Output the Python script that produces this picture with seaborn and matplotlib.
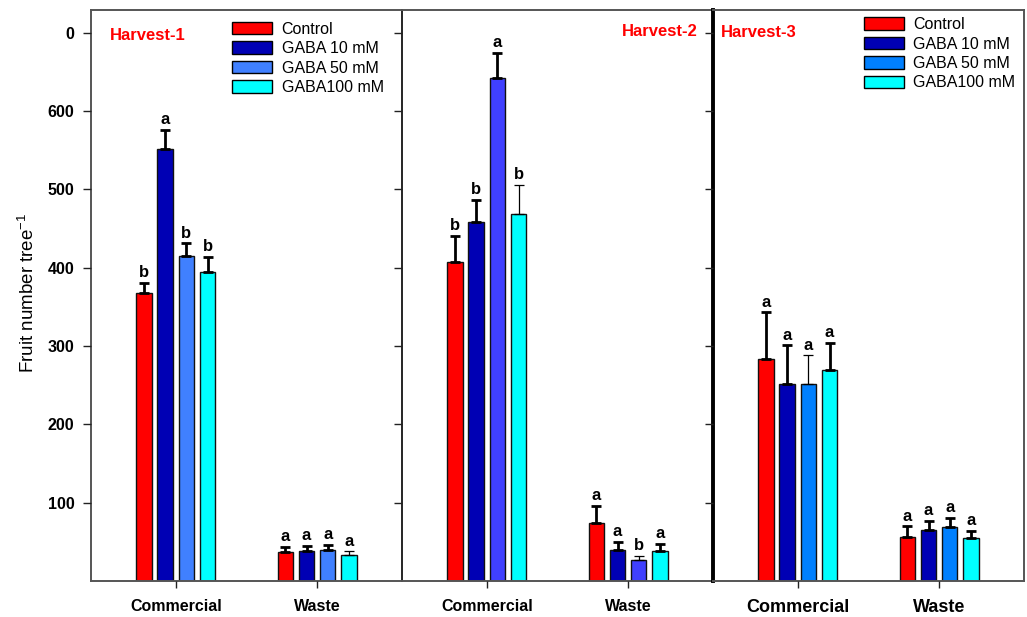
import matplotlib
matplotlib.use("Agg")
import matplotlib.pyplot as plt
import matplotlib.patches as mpatches
import seaborn as sns
import pandas as pd

# ---- data -------------------------------------------------------------
categories = ["Commercial", "Waste"]
treatments = ["Control", "GABA 10 mM", "GABA 50 mM", "GABA100 mM"]
harvests = ["Harvest-1", "Harvest-2", "Harvest-3"]

h1_commercial = [368, 551, 415, 395]
h1_commercial_se = [13, 25, 16, 19]
h1_waste = [37, 38, 40, 33]
h1_waste_se = [7, 7, 6, 5]
h1_commercial_letters = ["b", "a", "b", "b"]
h1_waste_letters = ["a", "a", "a", "a"]

h2_commercial = [407, 458, 642, 469]
h2_commercial_se = [34, 29, 32, 37]
h2_waste = [74, 40, 27, 38]
h2_waste_se = [22, 10, 5, 10]
h2_commercial_letters = ["b", "b", "a", "b"]
h2_waste_letters = ["a", "a", "b", "a"]

h3_commercial = [284, 251, 251, 269]
h3_commercial_se = [59, 50, 37, 35]
h3_waste = [57, 65, 69, 55]
h3_waste_se = [13, 12, 12, 9]
h3_commercial_letters = ["a", "a", "a", "a"]
h3_waste_letters = ["a", "a", "a", "a"]

ytick_values = [100, 200, 300, 400, 500, 600, 700]
ytick_labels = ["100", "200", "300", "400", "500", "600", "0"]

panels = [
    (h1_commercial, h1_commercial_se, h1_commercial_letters,
     h1_waste, h1_waste_se, h1_waste_letters),
    (h2_commercial, h2_commercial_se, h2_commercial_letters,
     h2_waste, h2_waste_se, h2_waste_letters),
    (h3_commercial, h3_commercial_se, h3_commercial_letters,
     h3_waste, h3_waste_se, h3_waste_letters),
]

# ---- styling ----------------------------------------------------------
palettes = [
    ["#FF0000", "#0000B4", "#4080FF", "#00FFFF"],
    ["#FF0000", "#0000B4", "#4040FF", "#00FFFF"],
    ["#FF0000", "#0000B4", "#0080FF", "#00FFFF"],
]
# error bars drawn with a thin stroke: (panel, category, treatment)
thin_bars = {(0, 1, 3), (1, 0, 3), (1, 1, 2), (2, 0, 2)}

sns.set_theme(style="white")
plt.rcParams["font.family"] = ["Liberation Sans", "DejaVu Sans"]
plt.rcParams["axes.unicode_minus"] = False
plt.rcParams["mathtext.default"] = "regular"
plt.rcParams["text.color"] = "black"
plt.rcParams["xtick.color"] = "black"
plt.rcParams["ytick.color"] = "black"
plt.rcParams["xtick.labelcolor"] = "black"
plt.rcParams["ytick.labelcolor"] = "black"

fig, axes = plt.subplots(1, 3, figsize=(10.27, 6.17), dpi=100, sharey=True)
fig.subplots_adjust(left=0.0886, right=0.997, top=0.984, bottom=0.058, wspace=0)

grey = "#555555"

for p, (ax, data) in enumerate(zip(axes, panels)):
    c_mean, c_se, c_let, w_mean, w_se, w_let = data
    df = pd.DataFrame({
        "category": [categories[0]] * 4 + [categories[1]] * 4,
        "treatment": treatments * 2,
        "value": c_mean + w_mean,
    })
    sns.barplot(data=df, x="category", y="value", hue="treatment",
                order=categories, hue_order=treatments,
                palette=palettes[p], saturation=1, width=0.6, gap=0.27,
                errorbar=None, edgecolor="#111111", linewidth=1.0,
                legend=False, ax=ax)

    means = [c_mean, w_mean]
    ses = [c_se, w_se]
    lets = [c_let, w_let]
    bar_groups = list(ax.containers)[:len(treatments)]
    for t, cont in enumerate(bar_groups):
        for c, bar in enumerate(cont.patches):
            x = bar.get_x() + bar.get_width() / 2
            m = means[c][t]
            s = ses[c][t]
            lw = 0.9 if (p, c, t) in thin_bars else 2.0
            ax.errorbar([x], [m], yerr=[[0], [s]], fmt="none", ecolor="black",
                        elinewidth=lw, capsize=3.4, capthick=lw, zorder=3)
            ax.annotate(lets[c][t], (x, m + s), xytext=(0, 2),
                        textcoords="offset points", ha="center", va="bottom",
                        fontsize=12, fontweight="bold", color="black")

    ax.set_xlim(-0.6, 1.6)
    ax.set_ylim(0, 729)
    ax.set_xlabel("")
    ax.set_ylabel("")
    ax.set_yticks(ytick_values)
    ax.tick_params(axis="y", direction="out", length=6, width=1, color="#222222",
                   left=True, pad=6)
    ax.tick_params(axis="x", direction="out", length=5, width=1, color="#222222",
                   bottom=True, pad=8)
    xfs = 13 if p == 2 else 11.5
    ax.set_xticks([0, 1])
    ax.set_xticklabels(categories, fontsize=xfs, fontweight="bold")

    for side in ["top", "bottom"]:
        ax.spines[side].set_color(grey)
        ax.spines[side].set_linewidth(1.4)
    ax.spines["right"].set_visible(p == 2)
    ax.spines["right"].set_color(grey)
    ax.spines["right"].set_linewidth(1.4)
    if p == 0:
        ax.spines["left"].set_color(grey)
        ax.spines["left"].set_linewidth(1.4)
    elif p == 1:
        ax.spines["left"].set_color("black")
        ax.spines["left"].set_linewidth(1.2)
    else:
        ax.spines["left"].set_color("black")
        ax.spines["left"].set_linewidth(2.8)
    ax.set_axisbelow(False)

axes[0].set_yticklabels(ytick_labels, fontsize=11.5, fontweight="bold")

# harvest titles
axes[0].text(0.061, 0.956, harvests[0], transform=axes[0].transAxes, color="red",
             fontsize=12, fontweight="bold", ha="left", va="center")
axes[1].text(0.951, 0.963, harvests[1], transform=axes[1].transAxes, color="red",
             fontsize=12, fontweight="bold", ha="right", va="center")
axes[2].text(0.025, 0.960, harvests[2], transform=axes[2].transAxes, color="red",
             fontsize=12, fontweight="bold", ha="left", va="center")

# legends
for ax, pal, anchor in [(axes[0], palettes[0], (0.418, 0.999)),
                        (axes[2], palettes[2], (0.449, 1.007))]:
    handles = [mpatches.Patch(facecolor=col, edgecolor="black", linewidth=1.0,
                              label=lab) for col, lab in zip(pal, treatments)]
    ax.legend(handles=handles, loc="upper left", bbox_to_anchor=anchor,
              frameon=False, fontsize=11.5, handlelength=2.5, handleheight=0.8,
              handletextpad=0.6, labelspacing=0.28, borderpad=0.2)

fig.text(28 / 1027, 1 - 293 / 617, "Fruit number tree$^{-1}$", rotation=90,
         ha="center", va="center", fontsize=13.5)

fig.savefig("out.png", dpi=100)
